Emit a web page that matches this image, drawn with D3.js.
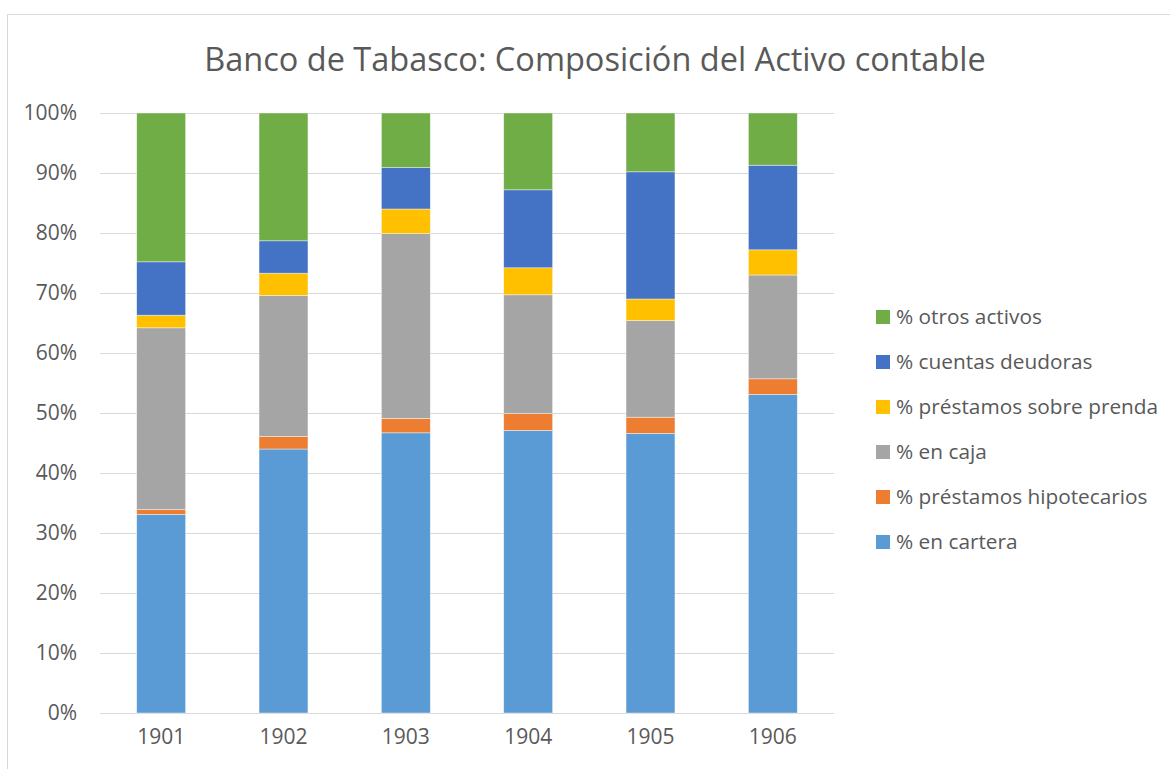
<!DOCTYPE html>
<html>
<head>
    <meta charset="utf-8">
    <title>Banco de Tabasco</title>
    <style>
        body { margin: 0; background: #fff; }
        text { font-family: "Open Sans", sans-serif; fill: #595959; }
        .grid line { stroke: #d9d9d9; stroke-width: 1px; }
        .seg { stroke: #fff; stroke-width: 0.7px; stroke-opacity: 0.6; }
    </style>
</head>
<body>
    <svg width="1170" height="769"></svg>

    <script src="https://d3js.org/d3.v7.min.js"></script>
    <script>
        // Años y porcentajes
        var years = ["1901", "1902", "1903", "1904", "1905", "1906"];
        var series = ["% en cartera", "% préstamos hipotecarios", "% en caja",
                      "% préstamos sobre prenda", "% cuentas deudoras", "% otros activos"];
        var colors = ["#5b9bd5", "#ed7d31", "#a5a5a5", "#ffc000", "#4472c4", "#70ad47"];

        var enCartera     = [33.1, 44.0, 46.7, 47.1, 46.6, 53.1];
        var hipotecarios  = [0.8, 2.1, 2.4, 2.8, 2.7, 2.6];
        var enCaja        = [30.3, 23.5, 30.8, 19.8, 16.1, 17.3];
        var sobrePrenda   = [2.1, 3.7, 4.1, 4.5, 3.6, 4.2];
        var deudoras      = [8.9, 5.4, 6.9, 13.0, 21.2, 14.1];
        var otrosActivos  = [24.8, 21.3, 9.1, 12.8, 9.8, 8.7];

        var yTicks = [0, 10, 20, 30, 40, 50, 60, 70, 80, 90, 100];

        var values = [enCartera, hipotecarios, enCaja, sobrePrenda, deudoras, otrosActivos];

        // tabla para d3.stack
        var table = years.map(function(y, i) {
            var row = { year: y };
            series.forEach(function(s, j) { row[s] = values[j][i]; });
            return row;
        });

        var svg = d3.select("svg");

        // marco del gráfico
        svg.append("rect")
            .attr("x", 7.5).attr("y", 14.5)
            .attr("width", 1180).attr("height", 780)
            .attr("fill", "none").attr("stroke", "#d9d9d9");

        var x = d3.scaleBand().domain(years).range([100, 834]).paddingInner(0.6).paddingOuter(0.3);
        var y = d3.scaleLinear().domain([0, 100]).range([713, 113]);

        // título
        svg.append("text")
            .attr("x", 595).attr("y", 71)
            .attr("text-anchor", "middle")
            .style("font-size", "32.5px")
            .text("Banco de Tabasco: Composición del Activo contable");

        // líneas de cuadrícula
        svg.append("g").attr("class", "grid")
            .selectAll("line").data(yTicks).enter().append("line")
            .attr("x1", 100).attr("x2", 834)
            .attr("y1", function(d) { return Math.round(y(d)) + 0.5; })
            .attr("y2", function(d) { return Math.round(y(d)) + 0.5; });

        // eje y
        var yAxis = svg.append("g")
            .attr("transform", "translate(100,0)")
            .call(d3.axisLeft(y).tickValues(yTicks).tickSize(0).tickPadding(23)
                .tickFormat(function(d) { return d + "%"; }));
        yAxis.select(".domain").remove();
        yAxis.selectAll("text").style("font-size", "21px").attr("fill", "#595959");

        // eje x
        var xAxis = svg.append("g")
            .attr("transform", "translate(0,713)")
            .call(d3.axisBottom(x).tickSize(0).tickPadding(16));
        xAxis.select(".domain").remove();
        xAxis.selectAll("text").style("font-size", "21px").attr("fill", "#595959");

        // barras apiladas
        var stacked = d3.stack().keys(series)(table);

        svg.append("g").selectAll("g")
            .data(stacked).enter().append("g")
            .attr("fill", function(d, i) { return colors[i]; })
            .selectAll("rect")
            .data(function(d) { return d; })
            .enter().append("rect")
            .attr("class", "seg")
            .attr("x", function(d) { return x(d.data.year); })
            .attr("width", x.bandwidth())
            .attr("y", function(d) { return y(d[1]); })
            .attr("height", function(d) { return y(d[0]) - y(d[1]); });

        // leyenda (orden inverso)
        var legendItems = series.slice().reverse();
        var legend = svg.append("g").selectAll("g")
            .data(legendItems).enter().append("g")
            .attr("transform", function(d, i) { return "translate(876," + (317 + i * 45) + ")"; });

        legend.append("rect")
            .attr("x", 0).attr("y", -7)
            .attr("width", 14).attr("height", 14)
            .attr("fill", function(d) { return colors[series.indexOf(d)]; });

        legend.append("text")
            .attr("x", 20).attr("y", 0)
            .attr("dy", "0.35em")
            .style("font-size", "20.8px")
            .text(function(d) { return d; });
    </script>
</body>
</html>
